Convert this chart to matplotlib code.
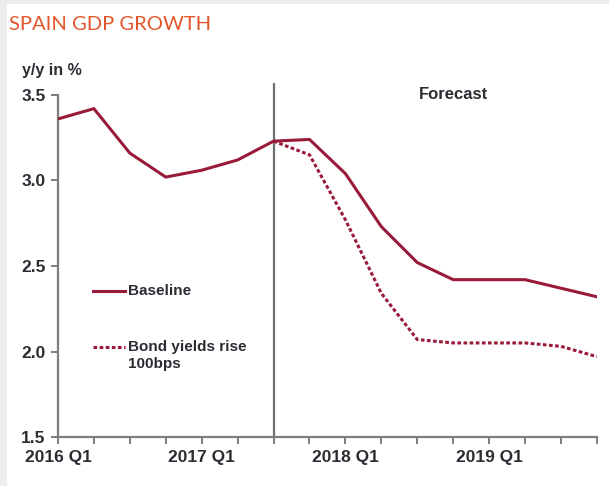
import matplotlib
matplotlib.use('Agg')
from matplotlib import pyplot as plt
from matplotlib.patches import Rectangle

quarters = ['2016 Q1', '2016 Q2', '2016 Q3', '2016 Q4',
            '2017 Q1', '2017 Q2', '2017 Q3', '2017 Q4',
            '2018 Q1', '2018 Q2', '2018 Q3', '2018 Q4',
            '2019 Q1', '2019 Q2', '2019 Q3', '2019 Q4']
baseline = [3.36, 3.42, 3.16, 3.02, 3.06, 3.12, 3.23, 3.24,
            3.04, 2.73, 2.52, 2.42, 2.42, 2.42, 2.37, 2.32]
# bond yields scenario starts where the forecast starts (2017 Q3)
bond_quarters = quarters[6:]
bond_yields_rise = [3.23, 3.15, 2.77, 2.34, 2.07, 2.05, 2.05, 2.05, 2.03, 1.97]
tick_labels = ['2016 Q1', '2017 Q1', '2018 Q1', '2019 Q1']
forecast_start = '2017 Q3'

line_color = '#9a1a3a'
text_color = '#2a2e33'
axis_color = '#7b7d80'

plt.rcParams['font.family'] = ['Liberation Sans', 'DejaVu Sans']

fig = plt.figure(figsize=(6.09, 4.86), dpi=100)
fig.patch.set_facecolor('white')
# light grey frame at top / left edge
fig.patches.append(Rectangle((0, 0.991), 1, 0.009, transform=fig.transFigure,
                             facecolor='#efedeb', edgecolor='none'))
fig.patches.append(Rectangle((0, 0), 0.011, 1, transform=fig.transFigure,
                             facecolor='#efedeb', edgecolor='none'))

ax = fig.add_axes([0.0952, 0.1008, 0.885, 0.7284])

x = list(range(len(quarters)))
xb = [quarters.index(q) for q in bond_quarters]
vx = quarters.index(forecast_start)

ax.axvline(vx, color='#6e7174', lw=1.6, zorder=1)
ax.plot(x, baseline, color=line_color, lw=2.2, solid_joinstyle='miter', zorder=3)
ax.plot(xb, bond_yields_rise, color=line_color, lw=2.2, ls=(0, (1.2, 0.8)), zorder=2)

ax.set_xlim(0, len(quarters) - 1)
ax.set_ylim(1.5, 3.57)
ax.set_yticks([1.5, 2.0, 2.5, 3.0, 3.5])
ax.set_yticklabels(['1.5', '2.0', '2.5', '3.0', '3.5'])
ax.set_xticks(x)
ax.set_xticklabels([q if q in tick_labels else '' for q in quarters])

for side in ('top', 'right'):
    ax.spines[side].set_visible(False)
for side in ('left', 'bottom'):
    ax.spines[side].set_color(axis_color)
    ax.spines[side].set_linewidth(1.6)
ax.spines['left'].set_bounds(1.5, 3.5)
ax.tick_params(axis='both', colors=axis_color, width=1.4, length=5,
               labelcolor=text_color, labelsize=12.5)
ax.tick_params(axis='y', pad=4)
ax.tick_params(axis='x', pad=4)
for lab in ax.get_xticklabels() + ax.get_yticklabels():
    lab.set_fontweight('bold')

ax.text(11, 3.5, 'Forecast', ha='center', va='center', fontsize=12,
        fontweight='bold', color=text_color)

# legend entries
ax.plot([0.065, 0.125], [0.412, 0.412], transform=ax.transAxes,
        color=line_color, lw=2.2, clip_on=False)
ax.text(0.13, 0.412, 'Baseline', transform=ax.transAxes, va='center',
        fontsize=11, fontweight='bold', color=text_color)
ax.plot([0.065, 0.125], [0.254, 0.254], transform=ax.transAxes,
        color=line_color, lw=2.2, ls=(0, (1.2, 0.8)), clip_on=False)
ax.text(0.13, 0.254, 'Bond yields rise', transform=ax.transAxes, va='center',
        fontsize=11, fontweight='bold', color=text_color)
ax.text(0.13, 0.205, '100bps', transform=ax.transAxes, va='center',
        fontsize=11, fontweight='bold', color=text_color)

fig.text(22 / 609, 1 - 70 / 486, 'y/y in %', ha='left', va='center',
         fontsize=11.5, fontweight='bold', color=text_color)
fig.text(9 / 609, 1 - 24 / 486, 'SPAIN GDP GROWTH', ha='left', va='center',
         fontsize=14.5, color='#e2582c', fontweight='normal',
         family=['Lato', 'Liberation Sans'])

fig.savefig('out.png', dpi=100)
